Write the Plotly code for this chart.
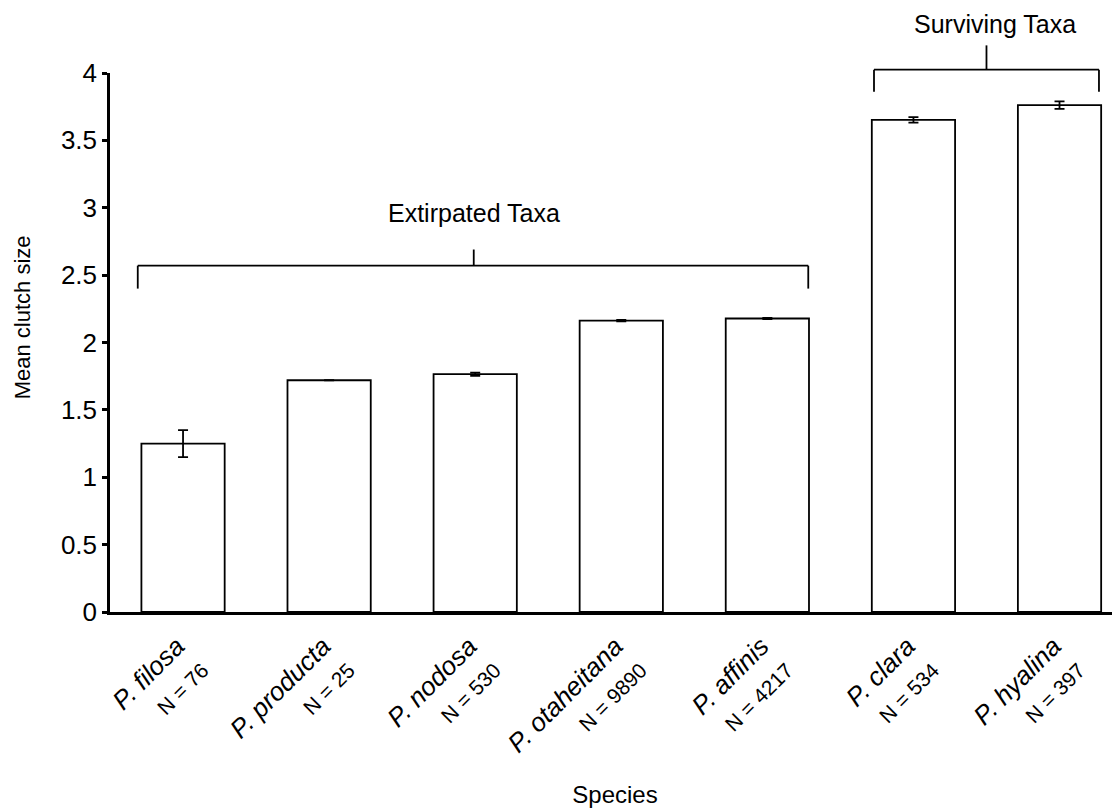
import plotly.graph_objects as go

species = ["P. filosa", "P. producta", "P. nodosa", "P. otaheitana",
           "P. affinis", "P. clara", "P. hyalina"]
sample_n = [76, 25, 530, 9890, 4217, 534, 397]
mean_clutch = [1.25, 1.72, 1.765, 2.162, 2.178, 3.652, 3.762]
error = [0.10, 0.0, 0.012, 0.005, 0.005, 0.02, 0.028]

groups = [
    {"label": "Extirpated Taxa", "x0": -0.31, "x1": 4.28, "xc": 1.99,
     "y": 2.57, "ylow": 2.40, "ytop": 2.69, "ytext": 2.96, "xtext": 1.99},
    {"label": "Surviving Taxa", "x0": 4.73, "x1": 6.27, "xc": 5.50,
     "y": 4.025, "ylow": 3.86, "ytop": 4.205, "ytext": 4.36, "xtext": 5.56},
]

XMIN, XMAX = -0.5, 6.414
YMIN, YMAX = 0.0, 4.0

def px_x(v):
    return (v - XMIN) / (XMAX - XMIN)

def px_y(v):
    return (v - YMIN) / (YMAX - YMIN)

xpos = list(range(len(species)))
ticktext = [f"<i>{s}</i><br><span style='font-size:21px'>N = {n}</span>"
            for s, n in zip(species, sample_n)]

fig = go.Figure()
fig.add_trace(go.Bar(
    x=xpos, y=mean_clutch, width=0.57,
    marker=dict(color="white", line=dict(color="black", width=1.8)),
    error_y=dict(type="data", array=error, visible=True,
                 color="black", thickness=1.8, width=5),
    showlegend=False,
))

shapes = []
annotations = []
for g in groups:
    line = dict(color="black", width=1.8)
    shapes.append(dict(type="line", xref="paper", yref="paper",
                       x0=px_x(g["x0"]), x1=px_x(g["x1"]),
                       y0=px_y(g["y"]), y1=px_y(g["y"]), line=line))
    shapes.append(dict(type="line", xref="paper", yref="paper",
                       x0=px_x(g["x0"]), x1=px_x(g["x0"]),
                       y0=px_y(g["y"]), y1=px_y(g["ylow"]), line=line))
    shapes.append(dict(type="line", xref="paper", yref="paper",
                       x0=px_x(g["x1"]), x1=px_x(g["x1"]),
                       y0=px_y(g["y"]), y1=px_y(g["ylow"]), line=line))
    shapes.append(dict(type="line", xref="paper", yref="paper",
                       x0=px_x(g["xc"]), x1=px_x(g["xc"]),
                       y0=px_y(g["y"]), y1=px_y(g["ytop"]), line=line))
    annotations.append(dict(text=g["label"], xref="x", yref="paper",
                            x=g["xtext"], y=px_y(g["ytext"]),
                            showarrow=False, xanchor="center", yanchor="middle",
                            font=dict(size=25, color="black")))

annotations.append(dict(text="Mean clutch size", xref="paper", yref="paper",
                        x=-0.087, y=0.547, textangle=-90, showarrow=False,
                        xanchor="center", yanchor="middle",
                        font=dict(size=22, color="black")))

fig.update_layout(
    width=1112, height=803,
    margin=dict(l=102, r=0, t=65, b=199),
    paper_bgcolor="white", plot_bgcolor="white",
    font=dict(family="Liberation Sans, Arial, sans-serif", size=24, color="black"),
    shapes=shapes, annotations=annotations,
    xaxis=dict(range=[XMIN, XMAX], tickmode="array", tickvals=xpos,
               ticktext=ticktext, tickangle=-45, ticks="",
               ticklabelshift=-6, ticklabelstandoff=6,
               showline=True, linecolor="black", linewidth=2.5,
               showgrid=False, zeroline=False,
               tickfont=dict(size=26),
               title=dict(text="Species", font=dict(size=24), standoff=4)),
    yaxis=dict(range=[YMIN, YMAX], tickmode="array",
               tickvals=[0, 0.5, 1, 1.5, 2, 2.5, 3, 3.5, 4],
               ticktext=["0", "0.5", "1", "1.5", "2", "2.5", "3", "3.5", "4"],
               ticks="outside", ticklen=5, tickwidth=2.5, tickcolor="black",
               showline=True, linecolor="black", linewidth=2.5,
               showgrid=False, zeroline=False,
               tickfont=dict(size=26)),
)

fig.write_html("out.html")
